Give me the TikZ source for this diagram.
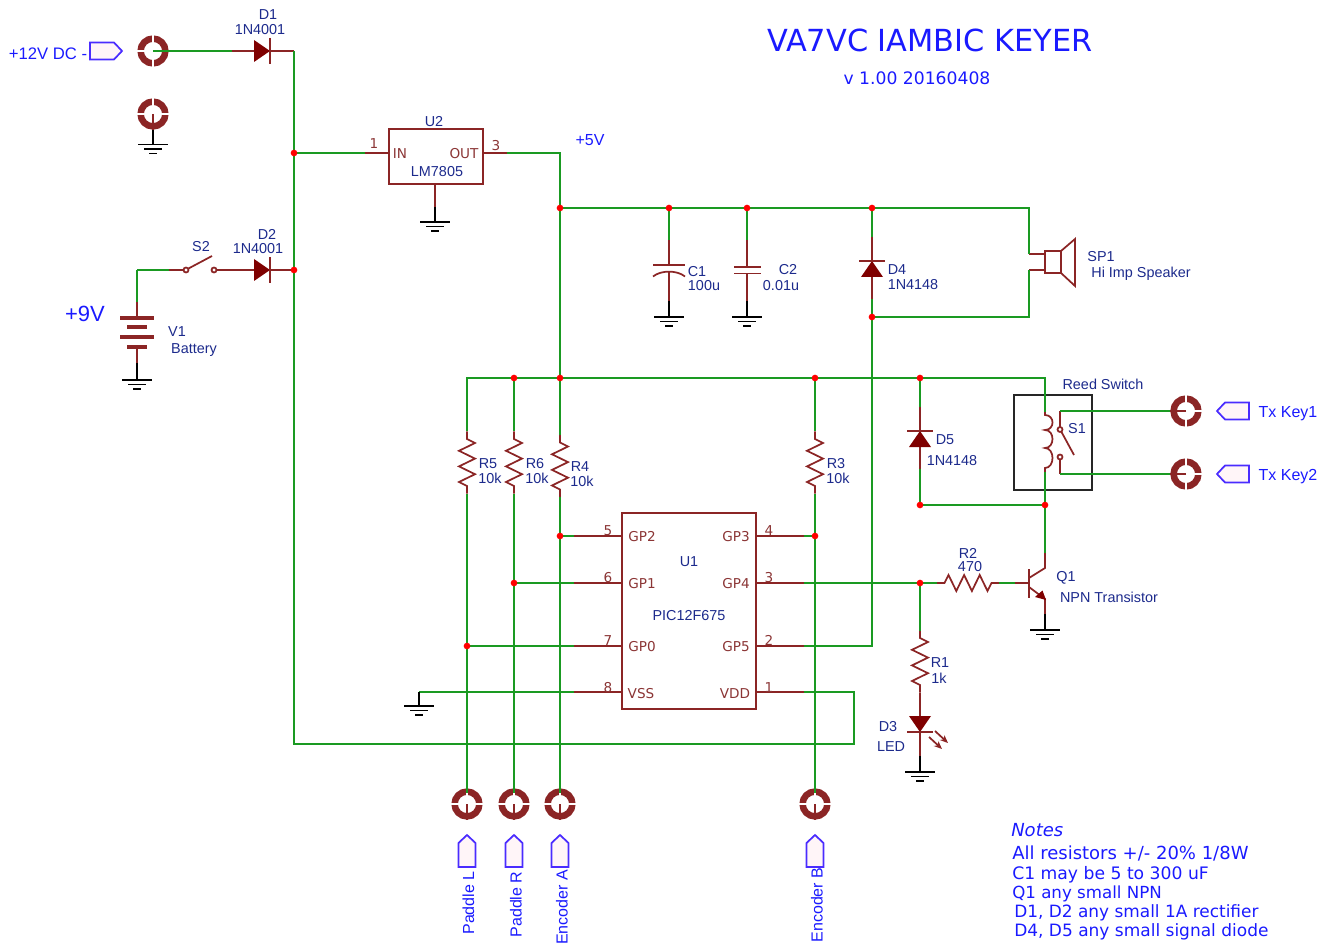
\documentclass[tikz,border=0pt]{standalone}
\usepackage{fontspec}
\setmainfont{Liberation Sans}
\newfontfamily\wideface{DejaVu Sans}
\usetikzlibrary{arrows,arrows.meta,calc,positioning}
\definecolor{wirecol}{HTML}{1A9A22}
\definecolor{leadcol}{HTML}{8B2525}
\definecolor{bodycol}{HTML}{7F0000}
\definecolor{partcol}{HTML}{1C2A8C}
\definecolor{pincol}{HTML}{8B3535}
\definecolor{notecol}{HTML}{1A1AFF}
\definecolor{tagcol}{HTML}{4A2CFF}
\definecolor{tagfill}{HTML}{FFF5F8}
\tikzstyle{wire}=[
  color=wirecol,
  line width=1.6pt,
  line join=miter,
]
\tikzstyle{lead}=[
  color=leadcol,
  line width=1.3pt,
]
\tikzstyle{earth}=[
  color=black,
  line width=1.3pt,
]
\tikzstyle{junction}=[
  circle,
  fill=red,
  inner sep=0pt,
  minimum size=5pt,
]
\tikzstyle{partlabel}=[
  color=partcol,
  font={\fontsize{10.8}{12}\selectfont},
  inner sep=0pt,
  yshift=-.75pt,
]
\tikzstyle{pinlabel}=[
  color=pincol,
  font={\wideface\fontsize{10.2}{12}\selectfont},
  inner sep=0pt,
  yshift=-.4pt,
]
\tikzstyle{taglabel}=[
  color=notecol,
  font={\fontsize{12}{14}\selectfont},
  inner sep=0pt,
]
\tikzstyle{notelabel}=[
  anchor=west,
  color=notecol,
  font={\wideface\fontsize{12.9}{14}\selectfont},
  inner sep=0pt,
]
\tikzset{
  >={Stealth[length=6pt,width=5pt]},
  pics/gndsym/.style={code={
    \coordinate (-a) at (0,0);
    \draw [earth] (-15,0) -- (15,0);
    \draw [earth] (-9,4.5) -- (9,4.5);
    \draw [earth] (-4,9) -- (4,9);
  }},
  pics/padsym/.style={code={
    \coordinate (-c) at (0,0);
    \coordinate (-n) at (0,-11);
    \coordinate (-s) at (0,16);
    \coordinate (-w) at (-16,0);
    \draw [color=leadcol, line width=4.9pt] (0,0) circle (12.4);
    \draw [color=white, line width=1.2pt] (-17,0) -- (-8,0);
    \draw [color=white, line width=1.2pt] (17,0) -- (8,0);
    \draw [color=white, line width=1.2pt] (0,-17) -- (0,-8);
    \draw [color=white, line width=1.2pt] (0,17) -- (0,8);
  }},
  pics/tagsym/.style={code={
    \draw [color=tagcol, fill=tagfill, line width=1.3pt]
      (0,0) -- (-8,-8.5) -- (-32,-8.5) -- (-32,8.5) -- (-8,8.5) -- cycle;
  }},
  pics/diodesym/.style={code={
    \coordinate (-a) at (-38,0);
    \coordinate (-b) at (24,0);
    \draw [lead] (-a) -- (-16,0);
    \draw [lead] (0,0) -- (-b);
    \fill [bodycol] (-16,-11) -- (0,0) -- (-16,11) -- cycle;
    \draw [lead] (0,-13) -- (0,13);
  }},
  pics/ressym/.style={code={
    \coordinate (-a) at (-31,0);
    \coordinate (-b) at (31,0);
    \draw [lead] (-a) -- (-23.5,0) -- (-19.5,-8) -- (-11.7,8) -- (-3.9,-8)
      -- (3.9,8) -- (11.7,-8) -- (19.5,8) -- (23.5,0) -- (-b);
  }},
}
\begin{document}
\begin{tikzpicture}[x=.75pt,y=-.75pt]
  \useasboundingbox (0,0) rectangle (1335,948);
  % junctions and wire corners
  \coordinate (jA) at (294,153);
  \coordinate (jB) at (294,270);
  \coordinate (jC) at (560,208);
  \coordinate (jD) at (669,208);
  \coordinate (jE) at (747,208);
  \coordinate (jF) at (872,208);
  \coordinate (jG) at (872,317);
  \coordinate (jH) at (514,378);
  \coordinate (jI) at (560,378);
  \coordinate (jJ) at (815,378);
  \coordinate (jK) at (920,378);
  \coordinate (jL) at (920,505);
  \coordinate (jM) at (1045,505);
  \coordinate (jN) at (560,536);
  \coordinate (jO) at (815,536);
  \coordinate (jP) at (514,583);
  \coordinate (jQ) at (920,583);
  \coordinate (jR) at (467,646);
  \coordinate (cornerBL) at (294,744);
  \coordinate (cornerBR) at (854,744);
  \coordinate (cornerVdd) at (854,692);
  \coordinate (cornerRail) at (467,378);
  \coordinate (cornerReed) at (1045,378);
  \coordinate (cornerSpkA) at (1029,208);
  \coordinate (cornerSpkB) at (1029,317);
  \coordinate (cornerGp5) at (872,646);
  \coordinate (cornerVss) at (419,692);
  \coordinate (cornerBat) at (137,270);
  % connectors and tags
  \pic (J1) at (153,51) {padsym};
  \pic (J2) at (153,114) {padsym};
  \pic (J3) at (1186,411) {padsym};
  \pic (J4) at (1186,474) {padsym};
  \pic (J5) at (467,804) {padsym};
  \pic (J6) at (514,804) {padsym};
  \pic (J7) at (560,804) {padsym};
  \pic (J8) at (815,804) {padsym};
  \pic (tagDc) at (122,51) {tagsym};
  \pic [rotate=180] (tagKa) at (1217,411) {tagsym};
  \pic [rotate=180] (tagKb) at (1217,474) {tagsym};
  \pic [rotate=90] (tagL) at (467,835) {tagsym};
  \pic [rotate=90] (tagR) at (514,835) {tagsym};
  \pic [rotate=90] (tagA) at (560,835) {tagsym};
  \pic [rotate=90] (tagB) at (815,835) {tagsym};
  % grounds
  \pic (gndJ2) at (153,144.5) {gndsym};
  \pic (gndU2) at (435,222) {gndsym};
  \pic (gndV1) at (137,380) {gndsym};
  \pic (gndC1) at (669,317) {gndsym};
  \pic (gndC2) at (747,317) {gndsym};
  \pic (gndU1) at (419,706) {gndsym};
  \pic (gndQ1) at (1045,630) {gndsym};
  \pic (gndD3) at (920,772) {gndsym};
  % diodes
  \pic (D1) at (270,51) {diodesym};
  \pic (D2) at (270,270) {diodesym};
  \pic [rotate=90] (D4) at (872,261) {diodesym};
  \pic [rotate=90] (D5) at (920,431) {diodesym};
  \pic [rotate=-90] (D3) at (920,732) {diodesym};
  \draw [lead, ->] (935,731) -- (948,743);
  \draw [lead, ->] (929,737) -- (942,749);
  % resistors
  \pic [rotate=-90] (R5) at (467,462.5) {ressym};
  \pic [rotate=-90] (R6) at (514,462.5) {ressym};
  \pic [rotate=-90] (R4) at (560,466) {ressym};
  \pic [rotate=-90] (R3) at (815,462.5) {ressym};
  \pic [rotate=-90] (R1) at (920,661.5) {ressym};
  \pic (R2) at (968,583) {ressym};
  % U2
  \node (U2) [draw=leadcol, line width=1.3pt, inner sep=0pt, minimum width=70.5pt, minimum height=41pt] at (436,156.5) {};
  \coordinate (U2in) at (365,153);
  \coordinate (U2out) at (507,153);
  \coordinate (U2gnd) at (435,207);
  \draw [lead] (U2in) -- (U2.west |- U2in);
  \draw [lead] (U2out) -- (U2.east |- U2out);
  \draw [lead] (U2.south -| U2gnd) -- (U2gnd);
  % U1
  \node (U1) [draw=leadcol, line width=1.3pt, inner sep=0pt, minimum width=100.5pt, minimum height=147pt] at (689,611) {};
  \coordinate (U1p5) at (574,536);
  \coordinate (U1p6) at (574,583);
  \coordinate (U1p7) at (574,646);
  \coordinate (U1p8) at (574,692);
  \coordinate (U1p4) at (804,536);
  \coordinate (U1p3) at (804,583);
  \coordinate (U1p2) at (804,646);
  \coordinate (U1p1) at (804,692);
  \draw [lead] (U1p5) -- (U1.west |- U1p5);
  \draw [lead] (U1p6) -- (U1.west |- U1p6);
  \draw [lead] (U1p7) -- (U1.west |- U1p7);
  \draw [lead] (U1p8) -- (U1.west |- U1p8);
  \draw [lead] (U1p4) -- (U1.east |- U1p4);
  \draw [lead] (U1p3) -- (U1.east |- U1p3);
  \draw [lead] (U1p2) -- (U1.east |- U1p2);
  \draw [lead] (U1p1) -- (U1.east |- U1p1);
  % C1, C2
  \coordinate (C1a) at (669,240);
  \coordinate (C1b) at (669,301);
  \draw [lead] (C1a) -- (669,265);
  \draw [lead] (653,265) -- (685,265);
  \draw [lead] (653,276.5) .. controls (661,270) and (677,270) .. (685,276.5);
  \draw [lead] (669,271.5) -- (C1b);
  \coordinate (C2a) at (747,240);
  \coordinate (C2b) at (747,301);
  \draw [lead] (C2a) -- (747,267);
  \draw [lead] (734,267) -- (761,267);
  \draw [lead] (734,273.5) -- (761,273.5);
  \draw [lead] (747,273.5) -- (C2b);
  % battery and S2
  \coordinate (V1a) at (137,302);
  \coordinate (V1b) at (137,363);
  \draw [lead] (V1a) -- (137,318);
  \draw [lead] (137,347) -- (V1b);
  \draw [lead, line width=2.4pt] (120,318) -- (154,318);
  \draw [lead, line width=2.4pt] (127,327) -- (147,327);
  \draw [lead, line width=2.4pt] (120,337) -- (154,337);
  \draw [lead, line width=2.4pt] (127,347) -- (147,347);
  \coordinate (S2a) at (169,270);
  \draw [lead] (S2a) -- (183.5,270);
  \draw [lead] (186,270) circle (2.5);
  \draw [lead] (188.5,268.5) -- (212,256);
  \draw [lead] (214,270) circle (2.5);
  \draw [lead] (216.5,270) -- (D2-a);
  % speaker
  \coordinate (SP1a) at (1045,254);
  \coordinate (SP1b) at (1045,270);
  \draw [lead] (1045,251) rectangle (1061,273);
  \draw [lead] (1061,251) -- (1075,239) -- (1075,286) -- (1061,273);
  \coordinate (SP1wa) at (1029,254);
  \coordinate (SP1wb) at (1029,270);
  \draw [lead] (SP1wa) -- (SP1a);
  \draw [lead] (SP1wb) -- (SP1b);
  % reed switch
  \node (S1box) [draw=black!85, line width=1.3pt, inner sep=0pt, minimum width=58.5pt, minimum height=71pt] at (1053,442.5) {};
  \coordinate (S1ca) at (1045,412);
  \coordinate (S1cb) at (1045,472);
  \draw [lead] (S1ca) -- (1045,415)
    .. controls (1055,415) and (1055,430) .. (1045,430)
    .. controls (1055,430) and (1055,448) .. (1045,448)
    .. controls (1055,448) and (1055,468) .. (1045,468) -- (S1cb);
  \coordinate (S1ta) at (1060,411);
  \coordinate (S1tb) at (1060,474);
  \draw [lead] (S1ta) -- (1060,427);
  \draw [lead] (1060,429.5) circle (2.5);
  \draw [lead] (1061.5,432) -- (1074,455);
  \draw [lead] (1060,457) circle (2.5);
  \draw [lead] (1060,459.5) -- (S1tb);
  % Q1
  \coordinate (Q1b) at (1015,583);
  \coordinate (Q1c) at (1045,553);
  \coordinate (Q1e) at (1045,614);
  \draw [lead] (Q1b) -- (1029,583);
  \draw [lead] (1029,569) -- (1029,598);
  \draw [lead] (1029,578) -- (1045,568) -- (Q1c);
  \draw [lead] (1029,587) -- (1045,599) -- (Q1e);
  \fill [bodycol] (1035,597) -- (1042.5,590.5) -- (1046,600) -- cycle;
  % wires
  \draw [wire] (J1-c) -- (D1-a);
  \draw [wire] (D1-b) -- (jA) -- (jB) -- (cornerBL) -- (cornerBR) -- (cornerVdd) -- (U1p1);
  \draw [wire] (jA) -- (U2in);
  \draw [wire] (U2out) -| (jC);
  \draw [wire] (jC) -- (jI) -- (R4-a);
  \draw [wire] (R4-b) -- (jN) -- (J7-n);
  \draw [wire] (jN) -- (U1p5);
  \draw [wire] (jC) -- (jD) -- (jE) -- (jF) -- (cornerSpkA) -- (SP1wa);
  \draw [wire] (jD) -- (C1a);
  \draw [wire] (jE) -- (C2a);
  \draw [wire] (jF) -- (D4-b);
  \draw [wire] (D4-a) -- (jG) -- (cornerGp5) -- (U1p2);
  \draw [wire] (jG) -- (cornerSpkB) -- (SP1wb);
  \draw [wire] (R5-a) -- (cornerRail) -- (jH) -- (jI) -- (jJ) -- (jK) -- (cornerReed) -- (S1ca);
  \draw [wire] (jH) -- (R6-a);
  \draw [wire] (jJ) -- (R3-a);
  \draw [wire] (jK) -- (D5-b);
  \draw [wire] (R5-b) -- (jR) -- (J5-n);
  \draw [wire] (jR) -- (U1p7);
  \draw [wire] (R6-b) -- (jP) -- (J6-n);
  \draw [wire] (jP) -- (U1p6);
  \draw [wire] (R3-b) -- (jO) -- (J8-n);
  \draw [wire] (jO) -- (U1p4);
  \draw [wire] (U1p3) -- (jQ) -- (R2-a);
  \draw [wire] (jQ) -- (R1-a);
  \draw [wire] (R2-b) -- (Q1b);
  \draw [wire] (D5-a) -- (jL) -- (jM);
  \draw [wire] (S1cb) -- (jM) -- (Q1c);
  \draw [wire] (U1p8) -- (cornerVss);
  \draw [wire] (cornerBat) -- (V1a);
  \draw [wire] (cornerBat) -- (S2a);
  \draw [wire] (S1ta) -- (J3-w);
  \draw [wire] (S1tb) -- (J4-w);
  \draw [lead] (R1-b) -- (D3-a);
  % stubs
  \draw [lead] (J2-c) -- (J2-s);
  \draw [lead] (J3-c) -- (J3-w);
  \draw [lead] (J4-c) -- (J4-w);
  \draw [lead] (J5-c) -- (J5-s);
  \draw [lead] (J6-c) -- (J6-s);
  \draw [lead] (J7-c) -- (J7-s);
  \draw [lead] (J8-c) -- (J8-s);
  \draw [earth] (J2-s) -- (gndJ2-a);
  \draw [earth] (U2gnd) -- (gndU2-a);
  \draw [earth] (V1b) -- (gndV1-a);
  \draw [earth] (C1b) -- (gndC1-a);
  \draw [earth] (C2b) -- (gndC2-a);
  \draw [earth] (cornerVss) -- (gndU1-a);
  \draw [earth] (Q1e) -- (gndQ1-a);
  \draw [earth] (D3-b) -- (gndD3-a);
  \foreach \j in {jA,jB,jC,jD,jE,jF,jG,jH,jI,jJ,jK,jL,jM,jN,jO,jP,jQ,jR}
    \node (dot\j) [junction] at (\j) {};
  % part names
  \node (D1name) [partlabel] at (268,14) {D1};
  \node (D1val) [partlabel] at (260,29) {1N4001};
  \node (D2name) [partlabel] at (267,233) {D2};
  \node (D2val) [partlabel] at (258,248) {1N4001};
  \node (S2name) [partlabel] at (201,246) {S2};
  \node (V1name) [partlabel] at (177,331) {V1};
  \node (V1val) [partlabel] at (194,349) {Battery};
  \node (U2name) [partlabel] at (434,121) {U2};
  \node (U2val) [partlabel] at (437,171) {LM7805};
  \node (C1name) [partlabel] at (697,271) {C1};
  \node (C1val) [partlabel] at (704,285) {100u};
  \node (C2name) [partlabel] at (788,269) {C2};
  \node (C2val) [partlabel] at (781,285) {0.01u};
  \node (D4name) [partlabel] at (897,269) {D4};
  \node (D4val) [partlabel] at (913,284) {1N4148};
  \node (SP1name) [partlabel] at (1101,256) {SP1};
  \node (SP1val) [partlabel] at (1141,273) {Hi Imp Speaker};
  \node (S1title) [partlabel] at (1103,383) {Reed Switch};
  \node (S1name) [partlabel] at (1077,428) {S1};
  \node (D5name) [partlabel] at (945,439) {D5};
  \node (D5val) [partlabel] at (952,460) {1N4148};
  \node (R5name) [partlabel] at (488,463) {R5};
  \node (R5val) [partlabel] at (490,477) {10k};
  \node (R6name) [partlabel] at (535,463) {R6};
  \node (R6val) [partlabel] at (537,477) {10k};
  \node (R4name) [partlabel] at (580,466) {R4};
  \node (R4val) [partlabel] at (582,480) {10k};
  \node (R3name) [partlabel] at (836,463) {R3};
  \node (R3val) [partlabel] at (838,477) {10k};
  \node (R2name) [partlabel] at (968,552) {R2};
  \node (R2val) [partlabel] at (970,566) {470};
  \node (R1name) [partlabel] at (940,662) {R1};
  \node (R1val) [partlabel] at (939,677) {1k};
  \node (D3name) [partlabel] at (888,726) {D3};
  \node (D3val) [partlabel] at (891,746) {LED};
  \node (Q1name) [partlabel] at (1066,577) {Q1};
  \node (Q1val) [partlabel] at (1109,596) {NPN Transistor};
  \node (U1name) [partlabel] at (689,561) {U1};
  \node (U1val) [partlabel] at (689,615) {PIC12F675};
  % pin names
  \node (U2n1) [pinlabel] at (374,143) {1};
  \node (U2n3) [pinlabel] at (496,145) {3};
  \node (U2nin) [pinlabel] at (400,153) {IN};
  \node (U2nout) [pinlabel] at (464,153) {OUT};
  \node (U1n5) [pinlabel] at (608,530) {5};
  \node (U1n6) [pinlabel] at (608,577) {6};
  \node (U1n7) [pinlabel] at (608,640) {7};
  \node (U1n8) [pinlabel] at (608,687) {8};
  \node (U1n4) [pinlabel] at (769,530) {4};
  \node (U1n3) [pinlabel] at (769,577) {3};
  \node (U1n2) [pinlabel] at (769,640) {2};
  \node (U1n1) [pinlabel] at (769,687) {1};
  \node (U1gp2) [pinlabel] at (642,536) {GP2};
  \node (U1gp1) [pinlabel] at (642,583) {GP1};
  \node (U1gp0) [pinlabel] at (642,646) {GP0};
  \node (U1vss) [pinlabel] at (641,693) {VSS};
  \node (U1gp3) [pinlabel] at (736,536) {GP3};
  \node (U1gp4) [pinlabel] at (736,583) {GP4};
  \node (U1gp5) [pinlabel] at (736,646) {GP5};
  \node (U1vdd) [pinlabel] at (735,693) {VDD};
  % blue text
  \node (lblDc) [taglabel, font={\fontsize{12.5}{14}\selectfont}] at (48,54) {+12V DC -};
  \node (lbl5v) [taglabel] at (590,140) {+5V};
  \node (lbl9v) [taglabel, font={\fontsize{16.5}{18}\selectfont}] at (85,314) {+9V};
  \node (lblKa) [taglabel] at (1288,414) {Tx Key1};
  \node (lblKb) [taglabel] at (1288,477) {Tx Key2};
  \node (lblL) [taglabel, rotate=90] at (468.5,903) {Paddle L};
  \node (lblR) [taglabel, rotate=90] at (516,904.5) {Paddle R};
  \node (lblA) [taglabel, rotate=90] at (562,907.5) {Encoder A};
  \node (lblB) [taglabel, rotate=90] at (817,905) {Encoder B};
  \node (title) [notelabel, anchor=center, font={\wideface\fontsize{22.8}{24}\selectfont}] at (930,40.5) {VA7VC IAMBIC KEYER};
  \node (version) [notelabel, anchor=center] at (917,78) {v 1.00 20160408};
  \node (noteHead) [notelabel, font={\wideface\itshape\fontsize{13.5}{15}\selectfont}] at (1011,830) {Notes};
  \node (noteA) [notelabel, font={\wideface\fontsize{13.5}{14}\selectfont}] at (1012,853.5) {All resistors +/- 20\% 1/8W};
  \node (noteB) [notelabel] at (1012,874.5) {C1 may be 5 to 300 uF};
  \node (noteC) [notelabel, font={\wideface\fontsize{12.5}{14}\selectfont}] at (1012,893.5) {Q1 any small NPN};
  \node (noteD) [notelabel, font={\wideface\fontsize{12.7}{14}\selectfont}] at (1014,912.5) {D1, D2 any small 1A rectifier};
  \node (noteE) [notelabel, font={\wideface\fontsize{12.75}{14}\selectfont}] at (1014,931.5) {D4, D5 any small signal diode};
\end{tikzpicture}
\end{document}
